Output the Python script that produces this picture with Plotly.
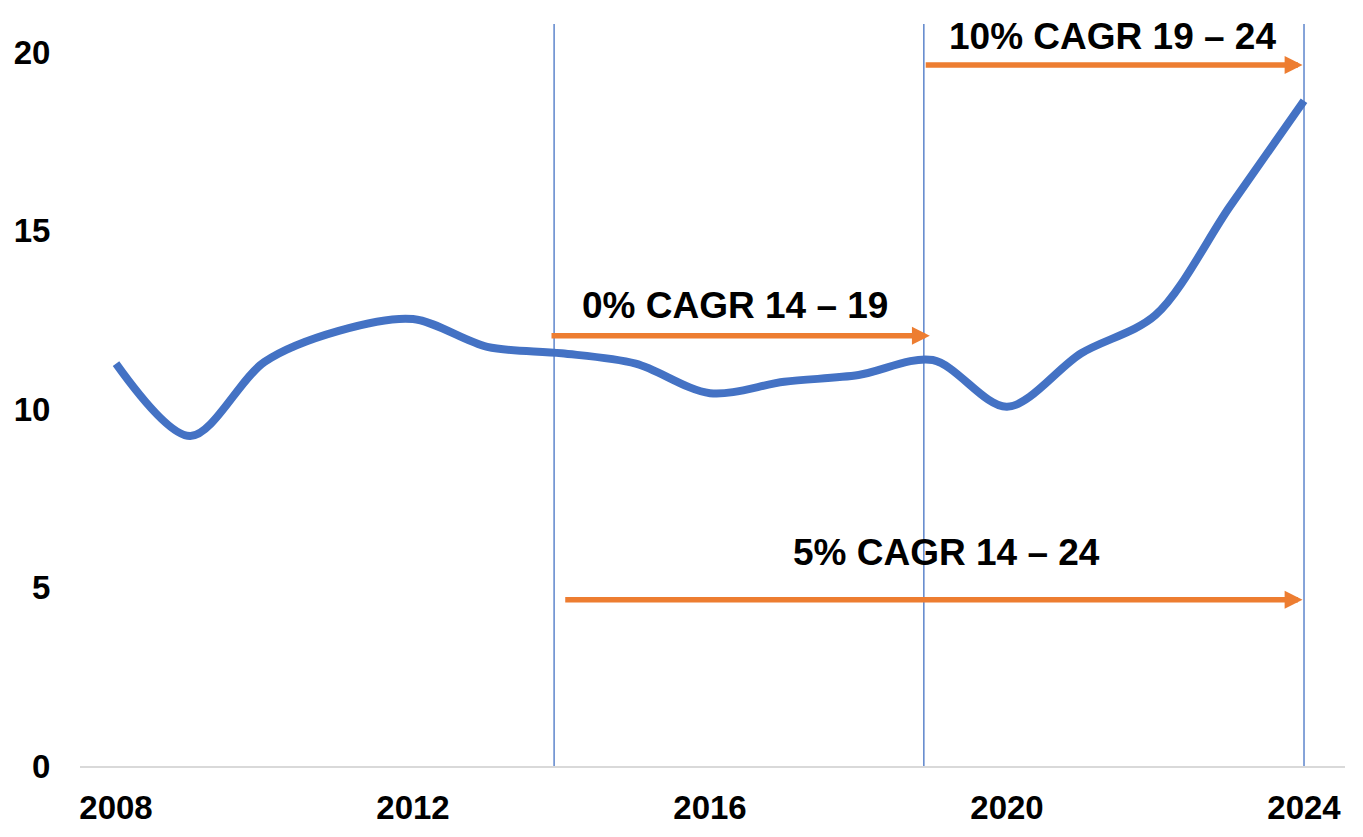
import plotly.graph_objects as go

years = list(range(2008, 2025))
values = [11.28, 9.25, 11.33, 12.2, 12.53, 11.75, 11.57, 11.28, 10.45, 10.77,
          10.96, 11.38, 10.07, 11.57, 12.64, 15.68, 18.65]

x_ticks = [2008, 2012, 2016, 2020, 2024]
y_ticks = [0, 5, 10, 15, 20]

vlines = [2013.9, 2018.88, 2024.0]

# arrows: (start_x, end_x, y)
arrows = [
    (2013.845, 2018.96, 12.06),
    (2018.885, 2023.98, 19.65),
    (2014.03, 2023.98, 4.66),
]
labels = [
    ("0% CAGR 14 – 19", 2016.34, 12.9),
    ("10% CAGR 19 – 24", 2021.42, 20.45),
    ("5% CAGR 14 – 24", 2019.19, 5.98),
]

BLUE = "#4472C4"
ORANGE = "#ED7D31"
FONT = "Liberation Sans, Arial, sans-serif"

fig = go.Figure()
fig.add_trace(go.Scatter(
    x=years, y=values, mode="lines",
    line=dict(color=BLUE, width=8, shape="spline", smoothing=0.9),
    hoverinfo="x+y", showlegend=False,
))

shapes = []
for vx in vlines:
    shapes.append(dict(type="line", xref="x", yref="paper", x0=vx, x1=vx, y0=0, y1=1,
                       line=dict(color=BLUE, width=1.3), layer="below"))

annotations = []
for x0, x1, yy in arrows:
    annotations.append(dict(
        x=x1, y=yy, ax=x0, ay=yy, xref="x", yref="y", axref="x", ayref="y",
        text="", showarrow=True, arrowhead=2, arrowsize=0.65, arrowwidth=5.5,
        arrowcolor=ORANGE, standoff=0, startstandoff=0,
    ))
for txt, tx, ty in labels:
    annotations.append(dict(
        x=tx, y=ty, xref="x", yref="y", text="<b>" + txt + "</b>", showarrow=False,
        font=dict(family=FONT, size=37, color="black"),
        xanchor="center", yanchor="middle",
    ))

fig.update_layout(
    width=1347, height=821,
    margin=dict(l=72, r=10, t=16, b=63),
    paper_bgcolor="white", plot_bgcolor="white",
    shapes=shapes, annotations=annotations,
    font=dict(family=FONT, color="black"),
    xaxis=dict(
        range=[2007.515, 2024.552], tickvals=x_ticks,
        ticktext=["<b>%d</b>" % t for t in x_ticks],
        tickfont=dict(family=FONT, size=33, color="black"),
        showgrid=False, zeroline=False, showline=True, linecolor="#D9D9D9", linewidth=2,
        ticks="outside", ticklen=11, tickcolor="rgba(0,0,0,0)", automargin=False,
    ),
    yaxis=dict(
        range=[0, 20.8], tickvals=y_ticks,
        ticktext=["<b>%d</b>" % t for t in y_ticks],
        tickfont=dict(family=FONT, size=33, color="black"),
        showgrid=False, zeroline=False, showline=False,
        ticks="outside", ticklen=22, tickcolor="rgba(0,0,0,0)", automargin=False,
    ),
)

fig.write_html("out.html")
